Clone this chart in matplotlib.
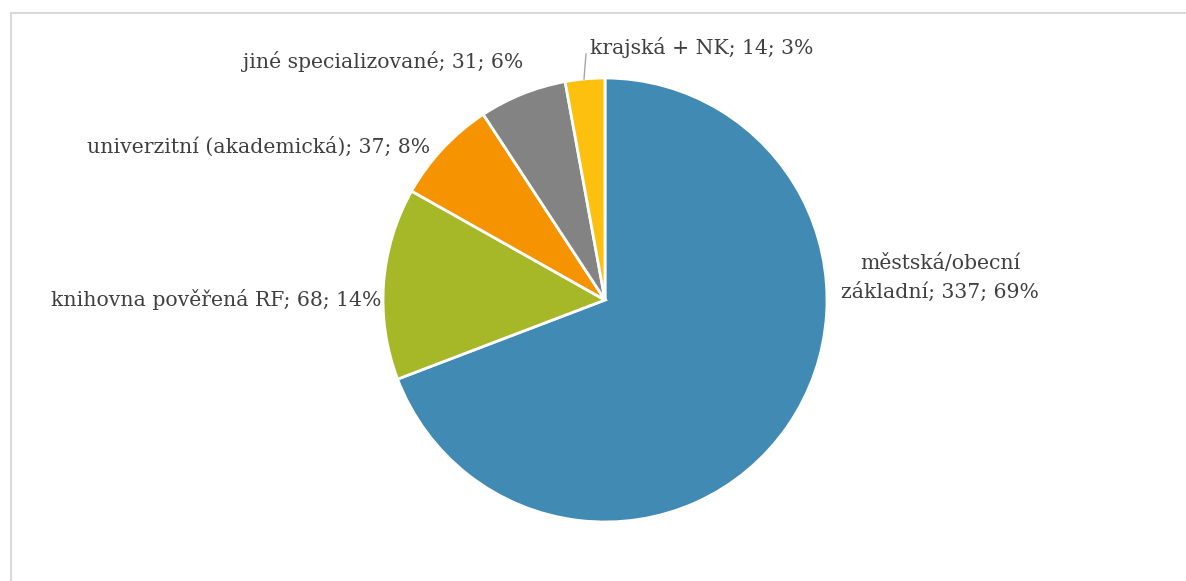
import matplotlib.pyplot as plt
from matplotlib.patches import Rectangle

# data
categories = ["městská/obecní\nzákladní", "knihovna pověřená RF",
              "univerzitní (akademická)", "jiné specializované", "krajská + NK"]
counts = [337, 68, 37, 31, 14]
colors = ["#418AB3", "#A6B727", "#F59300", "#838383", "#FEC00F"]

W, H = 1186, 581
fig = plt.figure(figsize=(W / 100, H / 100), dpi=100)
ax = fig.add_axes([0, 0, 1, 1])

# chart frame (light gray, cut by the image edge on right/bottom)
ax.add_patch(Rectangle((10.5, -20), W + 40, H - 13 + 20, fill=False,
                       edgecolor="#D9D9D9", linewidth=1.5))

cx, cy, r = 605, H - 300, 222
ax.pie(counts, colors=colors, startangle=90, counterclock=False,
       center=(cx, cy), radius=r, frame=True,
       wedgeprops=dict(edgecolor="white", linewidth=2))
ax.set_xlim(0, W)
ax.set_ylim(0, H)
ax.set_aspect("equal")
ax.axis("off")

total = sum(counts)
pcts = [round(c / total * 100) for c in counts]
labels = [f"{cat}; {c}; {p}%" for cat, c, p in zip(categories, counts, pcts)]

font = dict(family="DejaVu Serif", fontsize=14.7, color="#404040")
# label positions (x, y from top, ha)
pos = [(940, 278, "center"), (381, 300, "right"), (430, 147, "right"),
       (523, 62, "right"), (590, 47, "left")]
for lab, (x, y, ha) in zip(labels, pos):
    ax.text(x, H - y, lab, ha=ha, va="center", multialignment="center",
            linespacing=1.6, **font)

# leader line for the small slice
ax.plot([584, 586], [H - 79, H - 54], color="#A6A6A6", linewidth=1)

fig.savefig("out.png", dpi=100)
